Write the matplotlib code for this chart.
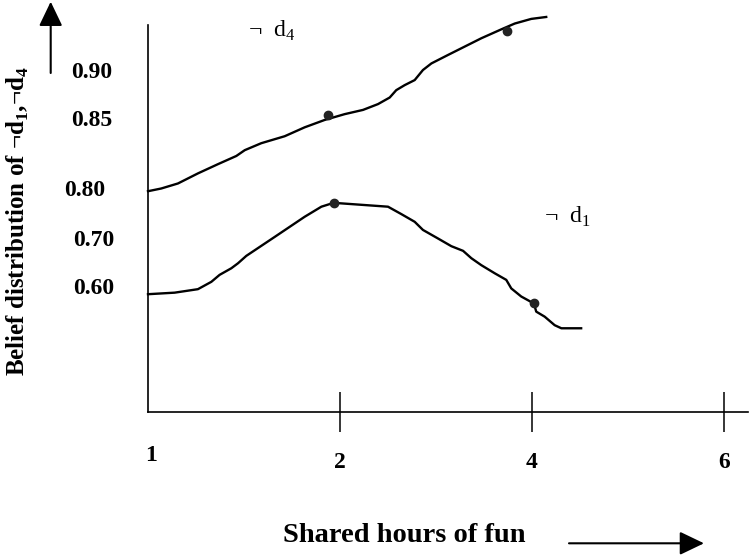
import matplotlib
matplotlib.use("Agg")
import matplotlib.pyplot as plt
from matplotlib.transforms import ScaledTranslation

plt.rcParams['font.family'] = ['Liberation Serif', 'DejaVu Serif']
plt.rcParams['mathtext.fontset'] = 'custom'
plt.rcParams['mathtext.rm'] = 'Liberation Serif'
plt.rcParams['mathtext.bf'] = 'Liberation Serif:bold'

# x positions are in tick steps (one step per labelled tick), y is in percent of axis height
hour_labels = ['1', '2', '4', '6']
belief_labels = ['0.90', '0.85', '0.80', '0.70', '0.60']
belief_label_pos = [88.4, 76.1, 58.0, 45.0, 32.6]

d4_x = [0.0, 0.069, 0.156, 0.260, 0.365, 0.460, 0.504, 0.590, 0.712, 0.816, 0.920,
        1.024, 1.120, 1.198, 1.259, 1.293, 1.337, 1.389, 1.432, 1.476, 1.563, 1.736,
        1.840, 1.910, 1.996, 2.074]
d4_y = [57.1, 57.8, 59.1, 61.7, 64.1, 66.2, 67.7, 69.5, 71.3, 73.6, 75.5,
        77.0, 78.1, 79.6, 81.3, 83.2, 84.5, 85.8, 88.4, 90.1, 92.3, 96.6,
        98.9, 100.4, 101.6, 102.1]
d4_pts_x = [0.938, 1.870]
d4_pts_y = [76.8, 98.5]

d1_x = [0.0, 0.139, 0.260, 0.330, 0.373, 0.434, 0.469, 0.512, 0.660, 0.816, 0.903,
        0.967, 1.250, 1.319, 1.389, 1.432, 1.510, 1.580, 1.641, 1.684, 1.736, 1.806,
        1.866, 1.892, 1.944, 2.010, 2.022, 2.066, 2.118, 2.153, 2.256]
d1_y = [30.5, 30.9, 31.8, 33.7, 35.5, 37.2, 38.5, 40.4, 45.3, 50.5, 53.1,
        54.1, 53.1, 51.2, 49.2, 47.1, 44.9, 42.9, 41.7, 39.8, 38.0, 35.9,
        34.2, 32.0, 29.9, 28.1, 26.0, 24.7, 22.5, 21.7, 21.7]
d1_pts_x = [0.967, 2.010]
d1_pts_y = [54.1, 28.1]

W, H = 751, 557
fig = plt.figure(figsize=(W / 100, H / 100), dpi=100)
ax = fig.add_axes([148 / W, (H - 412.3) / H, 600 / W, (412.3 - 10) / H])
ax.set_xlim(0, 600 / 192)
ax.set_ylim(0, 103.9)

for s in ['top', 'right']:
    ax.spines[s].set_visible(False)
ax.spines['left'].set_bounds(0, 100)
for s in ['left', 'bottom']:
    ax.spines[s].set_linewidth(1.2)

ax.plot(d4_x, d4_y, color='black', lw=1.7, clip_on=False)
ax.plot(d1_x, d1_y, color='black', lw=1.7, clip_on=False)
ax.plot(d4_pts_x, d4_pts_y, 'o', color='#222222', ms=6, clip_on=False)
ax.plot(d1_pts_x, d1_pts_y, 'o', color='#222222', ms=6, clip_on=False)

ax.text(0.52, 98.5, '¬  d$_4$', fontsize=17, ha='left', va='center')
ax.text(2.064, 50.5, '¬  d$_1$', fontsize=17, ha='left', va='center')

# x ticks: long marks crossing the axis, none at the origin
ax.set_xticks(range(len(hour_labels)), hour_labels, fontsize=17, fontweight='bold')
ax.tick_params(axis='x', direction='inout', length=29, width=1.1, pad=14)
xt = ax.xaxis.get_major_ticks()
xt[0].tick1line.set_visible(False)
xt[0].label1.set_transform(xt[0].label1.get_transform() +
                           ScaledTranslation(0.03, 0.07, fig.dpi_scale_trans))

ax.set_yticks(belief_label_pos, belief_labels, fontsize=17, fontweight='bold')
ax.tick_params(axis='y', length=0, pad=24)
shift = [0.023, 0.023, 0.09, 0.0, 0.0]
for lab, dx in zip(ax.get_yticklabels(), shift):
    lab.set_transform(lab.get_transform() + ScaledTranslation(-dx, 0, fig.dpi_scale_trans))

ax.set_ylabel('Belief distribution of ¬d$_\\mathbf{1}$,¬d$_\\mathbf{4}$',
              fontsize=18, fontweight='bold', va='center')
ax.yaxis.set_label_coords(17.5 / W, 1 - 221 / H, transform=fig.transFigure)
ax.set_xlabel('Shared hours of fun', fontsize=20.5, fontweight='bold', va='center')
ax.xaxis.set_label_coords(404.7 / W, 1 - 536 / H, transform=fig.transFigure)

# direction arrows beside the axis titles
ax.annotate('', xy=(50.7, H - 1.7), xytext=(50.7, H - 73), xycoords='figure pixels',
            textcoords='figure pixels',
            arrowprops=dict(arrowstyle='-|>,head_length=0.75,head_width=0.36',
                            mutation_scale=20, lw=1.5, color='black',
                            shrinkA=0, shrinkB=0))
ax.annotate('', xy=(704, H - 543.3), xytext=(569, H - 543.3), xycoords='figure pixels',
            textcoords='figure pixels',
            arrowprops=dict(arrowstyle='-|>,head_length=0.75,head_width=0.36',
                            mutation_scale=20, lw=1.5, color='black',
                            shrinkA=0, shrinkB=0))

fig.savefig('out.png', dpi=100)
